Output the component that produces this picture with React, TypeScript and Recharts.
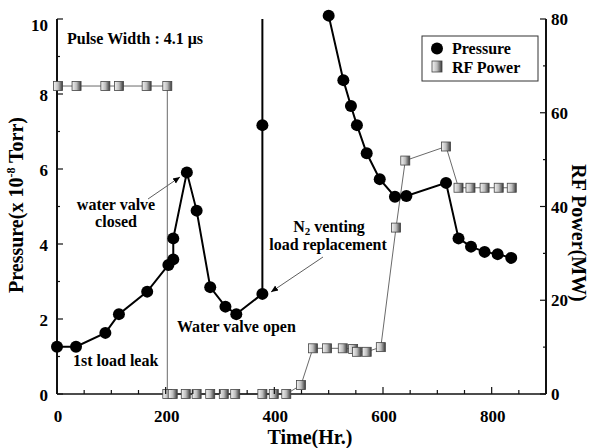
import React from "react";
import { LineChart, Line, XAxis, YAxis, Customized } from "recharts";

// Pressure (x 10^-8 Torr) vs time (hours)
const pressureHours = [0, 35, 89, 114, 166, 205, 214, 214, 239, 257, 282, 310, 330, 378, 378, 378, 500, 527, 541, 552, 570, 594, 622, 643, 716, 739, 762, 787, 811, 836];
const pressureValues = [1.26, 1.26, 1.63, 2.13, 2.73, 3.44, 3.59, 4.15, 5.91, 4.89, 2.85, 2.33, 2.13, 2.67, 7.17, 12, 10.09, 8.37, 7.68, 7.17, 6.42, 5.73, 5.26, 5.28, 5.63, 4.15, 3.93, 3.79, 3.73, 3.63];

// RF power (MW) vs time (hours)
const rfHours = [2, 36, 89, 114, 165, 203, 203, 213, 237, 257, 282, 307, 328, 378, 399, 422, 449, 471, 497, 526, 545, 552, 570, 596, 624, 641, 716, 739, 761, 787, 813, 837];
const rfValues = [65.7, 65.7, 65.7, 65.7, 65.7, 65.7, 0, 0, 0, 0, 0, 0, 0, 0, 0, 0, 1.9, 9.75, 9.75, 9.75, 9.6, 9.0, 9.0, 10.0, 35.5, 49.8, 52.8, 44, 44, 44, 44, 44];

const timeTicks = [0, 50, 100, 150, 200, 250, 300, 350, 400, 450, 500, 550, 600, 650, 700, 750, 800, 850, 900];
const timeLabels = [0, 200, 400, 600, 800];
const pressureTicks = [0, 1, 2, 3, 4, 5, 6, 7, 8, 9, 10];
const pressureLabels = [0, 2, 4, 6, 8, 10];
const rfTicks = [0, 10, 20, 30, 40, 50, 60, 70, 80];
const rfLabels = [0, 20, 40, 60, 80];

const pressureData = pressureHours.map((t, i) => ({ t, p: pressureValues[i] }));
const rfData = rfHours.map((t, i) => ({ t, rf: rfValues[i] }));

const FONT = "'Liberation Serif', 'Times New Roman', serif";
const AXIS = "#111";

const TimeTick = (props: any) => {
  const { x, y, payload } = props;
  const major = timeLabels.includes(payload.value);
  return (
    <g>
      <line x1={x} x2={x} y1={y} y2={y - (major ? 7 : 4)} stroke={AXIS} strokeWidth={1.2} />
      {major && (
        <text x={x + 1} y={y + 28} textAnchor="middle" fontFamily={FONT} fontWeight="bold" fontSize={17} fill="#000">
          {payload.value}
        </text>
      )}
    </g>
  );
};

const PressureTick = (props: any) => {
  const { x, y, payload } = props;
  const major = pressureLabels.includes(payload.value);
  return (
    <g>
      <line x1={x} x2={x + (major ? 6 : 3)} y1={y} y2={y} stroke={AXIS} strokeWidth={1.2} />
      {major && (
        <text x={x - 9} y={y + (payload.value === 10 ? 12 : 7)} textAnchor="end" fontFamily={FONT} fontWeight="bold" fontSize={17} fill="#000">
          {payload.value}
        </text>
      )}
    </g>
  );
};

const RfTick = (props: any) => {
  const { x, y, payload } = props;
  const major = rfLabels.includes(payload.value);
  return (
    <g>
      <line x1={x - (major ? 6 : 3)} x2={x} y1={y} y2={y} stroke={AXIS} strokeWidth={1.2} />
      {major && (
        <text x={x + 5} y={y + 6} textAnchor="start" fontFamily={FONT} fontWeight="bold" fontSize={17} fill="#000">
          {payload.value}
        </text>
      )}
    </g>
  );
};

const RfSquare = (props: any) => {
  const { cx, cy, index } = props;
  if (cx == null || cy == null) return <g key={`sq-${index}`} />;
  return (
    <rect
      key={`sq-${index}`}
      x={cx - 4.5}
      y={cy - 4.5}
      width={9}
      height={9}
      fill="url(#rfGrad)"
      stroke="#444"
      strokeWidth={0.8}
    />
  );
};

const txt = { fontFamily: FONT, fontWeight: "bold" as const, fontSize: 16, fill: "#000" };

const Annotations = () => (
  <g>
    <defs>
      <linearGradient id="rfGrad" x1="0" y1="0" x2="1" y2="0">
        <stop offset="0" stopColor="#f4f4f4" />
        <stop offset="0.5" stopColor="#bdbdbd" />
        <stop offset="1" stopColor="#3a3a3a" />
      </linearGradient>
      <marker id="arrowHead" markerWidth="8" markerHeight="8" refX="7" refY="4" orient="auto" markerUnits="userSpaceOnUse">
        <path d="M0,1 L7,4 L0,7 Z" fill="#000" />
      </marker>
    </defs>

    <text x={67} y={44} {...txt}>Pulse Width : 4.1 μs</text>

    <text x={116} y={210} textAnchor="middle" {...txt}>water valve</text>
    <text x={116} y={227} textAnchor="middle" {...txt}>closed</text>
    <line x1={148} y1={199} x2={180} y2={177} stroke="#333" strokeWidth={0.8} markerEnd="url(#arrowHead)" />

    <text x={329} y={232} textAnchor="middle" {...txt}>
      N<tspan fontSize={11} dy={3}>2</tspan><tspan dy={-3}> venting</tspan>
    </text>
    <text x={328} y={250} textAnchor="middle" {...txt}>load replacement</text>
    <line x1={323} y1={257} x2={271} y2={292} stroke="#333" strokeWidth={0.8} markerEnd="url(#arrowHead)" />

    <text x={177} y={332} {...txt}>Water valve open</text>
    <text x={73} y={366} {...txt}>1st load leak</text>

    {/* legend */}
    <rect x={422} y={36} width={116} height={45} fill="#fff" stroke="#333" strokeWidth={1} />
    <circle cx={437} cy={48.5} r={6} fill="#000" />
    <text x={452} y={54} {...txt}>Pressure</text>
    <rect x={432} y={61} width={10} height={11} fill="url(#rfGrad)" stroke="#444" strokeWidth={0.8} />
    <text x={452} y={72.5} {...txt}>RF Power</text>

    {/* axis titles */}
    <text x={23} y={205} transform="rotate(-90, 23, 205)" textAnchor="middle" fontFamily={FONT} fontWeight="bold" fontSize={20} fill="#000">
      Pressure(x 10<tspan fontSize={12} dy={-8}>-8</tspan><tspan dy={8}> Torr)</tspan>
    </text>
    <text x={572} y={233} transform="rotate(90, 572, 233)" textAnchor="middle" fontFamily={FONT} fontWeight="bold" fontSize={20} fill="#000">
      RF Power(MW)
    </text>
    <text x={310} y={444} textAnchor="middle" fontFamily={FONT} fontWeight="bold" fontSize={20} fill="#000">
      Time(Hr.)
    </text>
  </g>
);

export default function App() {
  return (
    <div style={{ position: "absolute", left: 0, top: 0, width: 589, height: 448, background: "#fff" }}>
      <LineChart width={589} height={448} margin={{ top: 19, right: 0, bottom: 0, left: 0 }}>
        <XAxis
          xAxisId="b"
          dataKey="t"
          type="number"
          domain={[0, 900]}
          ticks={timeTicks}
          interval={0}
          height={54}
          tickSize={0}
          tickMargin={0}
          tickLine={false}
          tick={<TimeTick />}
          axisLine={{ stroke: AXIS, strokeWidth: 1.5 }}
        />
        <XAxis
          xAxisId="top"
          orientation="top"
          type="number"
          domain={[0, 900]}
          height={0}
          tick={false}
          tickLine={false}
          axisLine={{ stroke: "#555", strokeWidth: 1.5 }}
        />
        <YAxis
          yAxisId="p"
          type="number"
          domain={[0, 10]}
          allowDataOverflow
          ticks={pressureTicks}
          interval={0}
          width={57}
          tickSize={0}
          tickMargin={0}
          tickLine={false}
          tick={<PressureTick />}
          axisLine={{ stroke: AXIS, strokeWidth: 2 }}
        />
        <YAxis
          yAxisId="rf"
          orientation="right"
          type="number"
          domain={[0, 80]}
          ticks={rfTicks}
          interval={0}
          width={43}
          tickSize={0}
          tickMargin={0}
          tickLine={false}
          tick={<RfTick />}
          axisLine={{ stroke: AXIS, strokeWidth: 2 }}
        />
        <Line
          xAxisId="b"
          yAxisId="rf"
          data={rfData}
          dataKey="rf"
          type="linear"
          stroke="#6a6a6a"
          strokeWidth={1}
          dot={RfSquare}
          activeDot={false}
          isAnimationActive={false}
        />
        <Line
          xAxisId="b"
          yAxisId="p"
          data={pressureData}
          dataKey="p"
          type="linear"
          stroke="#000"
          strokeWidth={2}
          dot={{ r: 6, fill: "#000", stroke: "none", strokeWidth: 8, clipDot: false }}
          activeDot={false}
          isAnimationActive={false}
        />
        <Customized component={Annotations} />
      </LineChart>
    </div>
  );
}
